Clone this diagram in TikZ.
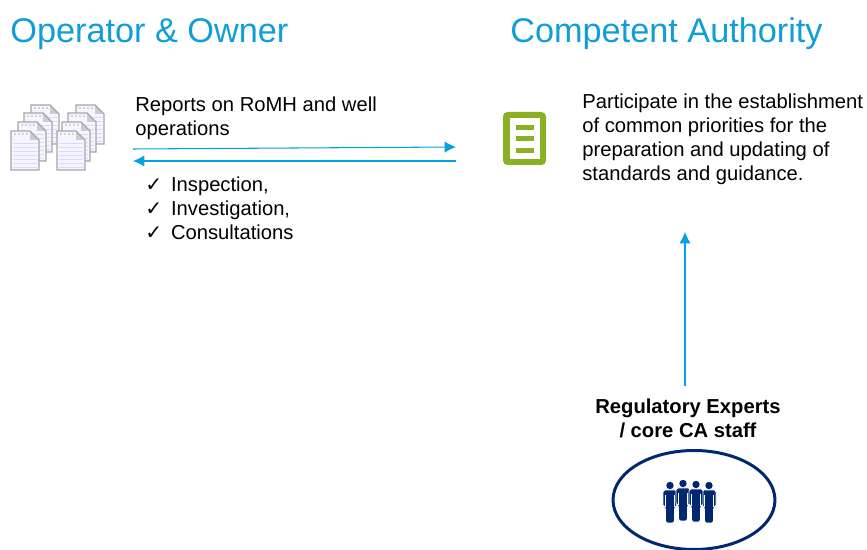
\documentclass[tikz,border=0pt]{standalone}
\usepackage{fontspec}
\setmainfont{Liberation Sans}
\newfontfamily\checkfont{DejaVu Sans}
\usepackage{tikz}
\usetikzlibrary{shapes.geometric, arrows.meta}
\definecolor{titleblue}{HTML}{0F9ED5}
\definecolor{arrowblue}{HTML}{00A3E0}
\definecolor{docgreen}{HTML}{8AB024}
\definecolor{staffblue}{HTML}{00276F}
\tikzset{
    title/.style={anchor=base west, inner sep=0pt, text=titleblue, font=\fontsize{19.5}{22}\selectfont},
    body/.style={anchor=north west, inner sep=0pt, align=left, font=\fontsize{11.5}{13.6}\selectfont},
    flow/.style={draw=arrowblue, line width=0.6pt, -{Latex[length=6.5pt,width=6.5pt]}},
    page/.pic={
        \fill[blue!4] (0,0) -- (19,0) -- (28,9) -- (28,39) -- (0,39) -- cycle;
        \foreach \y in {12,16,...,36}
            \draw[blue!15, line width=0.4pt] (2,\y) -- (26,\y);
        \foreach \x in {4,8,...,16}
            \fill[black!30] (\x,3) circle (0.8);
        \fill[black!20] (19,0) -- (19,9) -- (28,9) -- cycle;
        \draw[black!35, line width=0.8pt] (0,0) -- (19,0) -- (28,9) -- (28,39) -- (0,39) -- cycle;
    },
    person/.pic={
        \fill[staffblue, draw=white, line width=0.4pt, rounded corners=1pt]
            (-7,0) -- (7,0) -- (7,17) -- (4.5,17) -- (4.5,33) -- (-4.5,33) -- (-4.5,17) -- (-7,17) -- cycle;
        \draw[white, line width=0.4pt] (-4.5,5) -- (-4.5,17) (4.5,5) -- (4.5,17);
        \fill[staffblue] (0,-4.5) circle (3.7);
    }
}
\begin{document}
\begin{tikzpicture}[x=0.02cm, y=-0.02cm]
    \useasboundingbox (0,0) rectangle (867,550);
    \node[title] (owner) at (10,43) {Operator \& Owner};
    \node[title] (authority) at (510,43) {Competent Authority};
    % stacks of pages
    \foreach \x/\y in {31/105, 24/113, 18/122, 11/131, 76/105, 68/113, 62/122, 57/131}
        \pic at (\x,\y) {page};
    % green document
    \fill[docgreen, rounded corners=2.5pt] (503,112) rectangle (546,165);
    \fill[white] (510,118) rectangle (540,159);
    \foreach \y in {125,136,148}
        \fill[docgreen] (516,\y) rectangle (534,\y+5);
    \node[body] (reports) at (135,97) {Reports on RoMH and well\\operations};
    \node[body] (participate) at (582,94) {Participate in the establishment\\of common priorities for the\\preparation and updating of\\standards and guidance.};
    \node[body, text width=150] (tasks) at (145,177) {{\checkfont ✓}\hspace{5pt}Inspection,\\{\checkfont ✓}\hspace{5pt}Investigation,\\{\checkfont ✓}\hspace{5pt}Consultations};
    \coordinate (reportsout) at (133,149);
    \coordinate (reportsin) at (456,147);
    \coordinate (tasksout) at (456,161);
    \coordinate (tasksin) at (133,161);
    \draw[flow] (reportsout) -- (reportsin);
    \draw[flow] (tasksout) -- (tasksin);
    \node[body, anchor=north, align=center, font=\fontsize{11.5}{13.6}\selectfont\bfseries] (experts) at (688,399) {Regulatory Experts\\/ core CA staff};
    \coordinate (staffup) at (685,386);
    \coordinate (staffend) at (685,232);
    \draw[flow] (staffup) -- (staffend);
    \node[draw=staffblue, line width=1.7pt, ellipse, minimum width=3.24cm, minimum height=1.98cm, inner sep=0pt] (staff) at (694,500) {};
    \foreach \x/\y in {670/490, 709/490, 683/488, 696/489}
        \pic at (\x,\y) {person};
\end{tikzpicture}
\end{document}
